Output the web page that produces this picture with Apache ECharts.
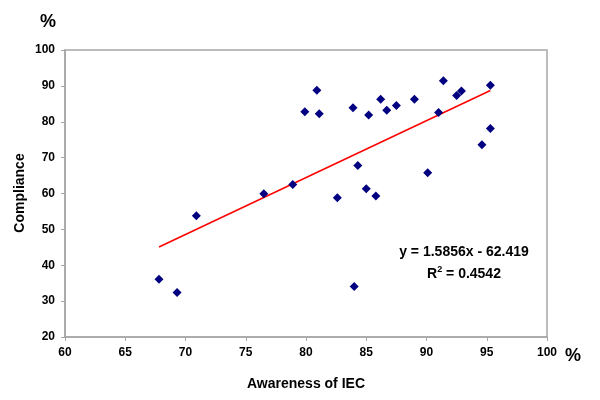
<!DOCTYPE html>
<html><head><meta charset="utf-8">
<script src="https://cdn.jsdelivr.net/npm/echarts@6/dist/echarts.min.js"></script>
<style>html,body{margin:0;padding:0;background:#fff}#c{width:600px;height:400px}</style>
</head><body><div id="c"></div>
<script>
// Awareness of IEC (%) vs Compliance (%)
const awareness = [79.9,76.5,78.9,80.9,81.1,83.9,85.2,86.2,86.7,87.5,89.0,91.0,91.4,92.5,92.9,95.3,95.3,94.6,84.3,90.1,85.0,85.8,82.6,70.9,67.8,69.3,84.0];
const compliance = [82.8,59.9,62.5,88.8,82.2,83.9,81.9,86.3,83.2,84.5,86.3,82.6,91.4,87.3,88.6,90.2,78.1,73.6,67.8,65.8,61.3,59.3,58.8,53.8,36.1,32.4,34.1];
const trendX = [67.8, 95.3];
const trendY = [45.1, 88.7];
const equationText = 'y = 1.5856x - 62.419';
const r2Value = '0.4542';

const pts = awareness.map((x,i)=>[x, compliance[i]]);
const trend = trendX.map((x,i)=>[x, trendY[i]]);
const font = 'Liberation Sans, Arial, sans-serif';
const chart = echarts.init(document.getElementById('c'));
chart.setOption({
  animation:false,
  backgroundColor:'#fff',
  grid:{left:65,right:53,top:50,bottom:63,show:true,borderColor:'#a6a6a6',borderWidth:1.5,backgroundColor:'#fff'},
  xAxis:{type:'value',min:60,max:100,interval:5,
    axisLine:{show:true,lineStyle:{color:'#a6a6a6',width:1.5}},
    axisTick:{show:true,inside:false,length:4,lineStyle:{color:'#a6a6a6'}},
    splitLine:{show:false},
    axisLabel:{color:'#000',fontWeight:'bold',fontSize:12,fontFamily:font,margin:10}},
  yAxis:{type:'value',min:20,max:100,interval:10,
    axisLine:{show:true,lineStyle:{color:'#a6a6a6',width:1.5}},
    axisTick:{show:true,inside:false,length:4,lineStyle:{color:'#a6a6a6'}},
    splitLine:{show:false},
    axisLabel:{color:'#000',fontWeight:'bold',fontSize:12,fontFamily:font,margin:10}},
  graphic:[
    {type:'text',x:48,y:22,style:{text:'%',font:'bold 18px '+font,fill:'#000',align:'center',verticalAlign:'middle'}},
    {type:'text',x:573,y:356,style:{text:'%',font:'bold 18px '+font,fill:'#000',align:'center',verticalAlign:'middle'}},
    {type:'text',x:306,y:384,style:{text:'Awareness of IEC',font:'bold 14px '+font,fill:'#000',align:'center',verticalAlign:'middle'}},
    {type:'text',x:20,y:193,rotation:Math.PI/2,style:{text:'Compliance',font:'bold 14px '+font,fill:'#000',align:'center',verticalAlign:'middle'}},
    {type:'text',x:464,y:252,style:{text:equationText,font:'bold 14px '+font,fill:'#000',align:'center',verticalAlign:'middle'}},
    {type:'text',x:464,y:274,style:{text:'{a|R}{s|2}{a| = '+r2Value+'}',align:'center',verticalAlign:'middle',
      rich:{a:{font:'bold 14px '+font,fill:'#000',color:'#000'},s:{font:'bold 9px '+font,color:'#000',verticalAlign:'top',padding:[0,0,8,0]}}}}
  ],
  series:[
    {type:'line',data:trend,symbol:'none',lineStyle:{color:'#ff0000',width:1.5},z:2,silent:true},
    {type:'scatter',data:pts,symbol:'diamond',symbolSize:9,itemStyle:{color:'#000080',opacity:1},z:3}
  ]
});
</script></body></html>
